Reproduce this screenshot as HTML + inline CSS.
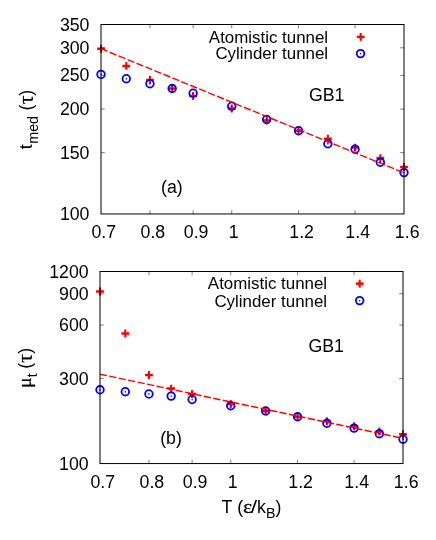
<!DOCTYPE html>
<html><head><meta charset="utf-8"><title>chart</title>
<style>html,body{margin:0;padding:0;background:#fff;overflow:hidden}svg{display:block;will-change:transform}text{font-family:"Liberation Sans",sans-serif;fill:#000}</style></head><body>
<svg width="436" height="540" viewBox="0 0 436 540" font-size="17">
<rect width="436" height="540" fill="#fff"/>
<path d="M97.10 48.70h7.8M122.39 65.90h7.8M146.04 79.90h7.8M168.26 88.60h7.8M189.21 96.10h7.8M227.83 108.50h7.8M262.76 120.60h7.8M294.66 130.80h7.8M323.99 138.80h7.8M351.16 147.60h7.8M376.44 158.10h7.8M400.10 167.00h7.8" stroke="#f00" stroke-width="2.5" fill="none"/><path d="M101.00 44.75v7.9M126.29 61.95v7.9M149.94 75.95v7.9M172.16 84.65v7.9M193.11 92.15v7.9M231.73 104.55v7.9M266.66 116.65v7.9M298.56 126.85v7.9M327.89 134.85v7.9M355.06 143.65v7.9M380.34 154.15v7.9M404.00 163.05v7.9" stroke="#f00" stroke-width="2.1" fill="none"/>
<circle cx="101.00" cy="74.40" r="3.8" fill="none" stroke="#00f" stroke-width="1.8"/><ellipse cx="101.00" cy="74.40" rx="0.65" ry="0.95" fill="#00f"/>
<circle cx="126.29" cy="78.70" r="3.8" fill="none" stroke="#00f" stroke-width="1.8"/><ellipse cx="126.29" cy="78.70" rx="0.65" ry="0.95" fill="#00f"/>
<circle cx="149.94" cy="83.70" r="3.8" fill="none" stroke="#00f" stroke-width="1.8"/><ellipse cx="149.94" cy="83.70" rx="0.65" ry="0.95" fill="#00f"/>
<circle cx="172.16" cy="88.55" r="3.8" fill="none" stroke="#00f" stroke-width="1.8"/><ellipse cx="172.16" cy="88.55" rx="0.65" ry="0.95" fill="#00f"/>
<circle cx="193.11" cy="93.25" r="3.8" fill="none" stroke="#00f" stroke-width="1.8"/><ellipse cx="193.11" cy="93.25" rx="0.65" ry="0.95" fill="#00f"/>
<circle cx="231.73" cy="106.20" r="3.8" fill="none" stroke="#00f" stroke-width="1.8"/><ellipse cx="231.73" cy="106.20" rx="0.65" ry="0.95" fill="#00f"/>
<circle cx="266.66" cy="119.45" r="3.8" fill="none" stroke="#00f" stroke-width="1.8"/><ellipse cx="266.66" cy="119.45" rx="0.65" ry="0.95" fill="#00f"/>
<circle cx="298.56" cy="130.75" r="3.8" fill="none" stroke="#00f" stroke-width="1.8"/><ellipse cx="298.56" cy="130.75" rx="0.65" ry="0.95" fill="#00f"/>
<circle cx="327.89" cy="143.80" r="3.8" fill="none" stroke="#00f" stroke-width="1.8"/><ellipse cx="327.89" cy="143.80" rx="0.65" ry="0.95" fill="#00f"/>
<circle cx="355.06" cy="149.30" r="3.8" fill="none" stroke="#00f" stroke-width="1.8"/><ellipse cx="355.06" cy="149.30" rx="0.65" ry="0.95" fill="#00f"/>
<circle cx="380.34" cy="162.30" r="3.8" fill="none" stroke="#00f" stroke-width="1.8"/><ellipse cx="380.34" cy="162.30" rx="0.65" ry="0.95" fill="#00f"/>
<circle cx="404.00" cy="172.60" r="3.8" fill="none" stroke="#00f" stroke-width="1.8"/><ellipse cx="404.00" cy="172.60" rx="0.65" ry="0.95" fill="#00f"/>
<path d="M101.0 48.7L404.0 172.8" stroke="#f00" stroke-width="1.4" stroke-dasharray="7.3 2.37" stroke-dashoffset="0.27" fill="none"/>
<path d="M149.94 213.95v-3.8M149.94 24.50v3.8M193.11 213.95v-3.8M193.11 24.50v3.8M231.73 213.95v-3.8M231.73 24.50v3.8M298.56 213.95v-3.8M298.56 24.50v3.8M355.06 213.95v-3.8M355.06 24.50v3.8M101.00 47.81h3.8M404.00 47.81h-3.8M101.00 75.38h3.8M404.00 75.38h-3.8M101.00 109.13h3.8M404.00 109.13h-3.8M101.00 152.63h3.8M404.00 152.63h-3.8" stroke="#000" stroke-width="0.5" fill="none"/>
<rect x="101.0" y="24.5" width="303.0" height="189.45" fill="none" stroke="#000" stroke-width="1"/>
<text transform="translate(89.5,30.5) scale(0.925,1)" text-anchor="end" font-size="19.2">350</text>
<text transform="translate(89.5,53.81) scale(0.925,1)" text-anchor="end" font-size="19.2">300</text>
<text transform="translate(89.5,81.38) scale(0.925,1)" text-anchor="end" font-size="19.2">250</text>
<text transform="translate(89.5,115.13) scale(0.925,1)" text-anchor="end" font-size="19.2">200</text>
<text transform="translate(89.5,158.63) scale(0.925,1)" text-anchor="end" font-size="19.2">150</text>
<text transform="translate(89.5,220.1) scale(0.925,1)" text-anchor="end" font-size="19.2">100</text>
<text transform="translate(103.8,238.3) scale(0.925,1)" text-anchor="middle" font-size="19.2">0.7</text>
<text transform="translate(152.9,238.3) scale(0.925,1)" text-anchor="middle" font-size="19.2">0.8</text>
<text transform="translate(196.1,238.3) scale(0.925,1)" text-anchor="middle" font-size="19.2">0.9</text>
<text transform="translate(233.7,238.3) scale(0.925,1)" text-anchor="middle" font-size="19.2">1</text>
<text transform="translate(301.6,238.3) scale(0.925,1)" text-anchor="middle" font-size="19.2">1.2</text>
<text transform="translate(357.7,238.3) scale(0.925,1)" text-anchor="middle" font-size="19.2">1.4</text>
<text transform="translate(407.2,238.3) scale(0.925,1)" text-anchor="middle" font-size="19.2">1.6</text>
<text x="328.1" y="42.5" text-anchor="end" font-size="16.9">Atomistic tunnel</text>
<text x="328.1" y="59.2" text-anchor="end" font-size="16.9">Cylinder tunnel</text>
<path d="M356.80 36.90h7.8" stroke="#f00" stroke-width="2.5" fill="none"/><path d="M360.70 32.95v7.9" stroke="#f00" stroke-width="2.1" fill="none"/>
<circle cx="360.5" cy="53.6" r="3.8" fill="none" stroke="#00f" stroke-width="1.8"/><ellipse cx="360.5" cy="53.6" rx="0.65" ry="0.95" fill="#00f"/>
<text transform="translate(308.9,100.5) scale(0.925,1)" text-anchor="start" font-size="19.2">GB1</text>
<text transform="translate(161.0,192.6) scale(0.925,1)" text-anchor="start" font-size="19.2">(a)</text>
<g transform="translate(32.3,149.2) rotate(-90)"><text transform="translate(0,0) scale(0.925,1)" font-size="19.2">t</text><text transform="translate(5.5,5.6) scale(0.925,1)" font-size="15.4">med</text><text transform="translate(38.75,0) scale(0.925,1)" font-size="19.2">(</text><text transform="translate(44.95,0.8) scale(1.065,1)" font-size="20.4" style="font-family:'Liberation Serif',serif" stroke="#000" stroke-width="0.25">τ</text><text transform="translate(53.5,0) scale(0.925,1)" font-size="19.2">)</text></g>
<path d="M96.10 291.50h7.8M121.39 333.50h7.8M145.04 374.95h7.8M167.26 388.60h7.8M188.21 394.00h7.8M226.83 404.00h7.8M261.76 411.00h7.8M293.66 416.80h7.8M322.99 421.30h7.8M350.16 426.20h7.8M375.44 431.50h7.8M399.10 434.20h7.8" stroke="#f00" stroke-width="2.5" fill="none"/><path d="M100.00 287.55v7.9M125.29 329.55v7.9M148.94 371.00v7.9M171.16 384.65v7.9M192.11 390.05v7.9M230.73 400.05v7.9M265.66 407.05v7.9M297.56 412.85v7.9M326.89 417.35v7.9M354.06 422.25v7.9M379.34 427.55v7.9M403.00 430.25v7.9" stroke="#f00" stroke-width="2.1" fill="none"/>
<circle cx="100.00" cy="389.80" r="3.8" fill="none" stroke="#00f" stroke-width="1.8"/><ellipse cx="100.00" cy="389.80" rx="0.65" ry="0.95" fill="#00f"/>
<circle cx="125.29" cy="391.70" r="3.8" fill="none" stroke="#00f" stroke-width="1.8"/><ellipse cx="125.29" cy="391.70" rx="0.65" ry="0.95" fill="#00f"/>
<circle cx="148.94" cy="394.00" r="3.8" fill="none" stroke="#00f" stroke-width="1.8"/><ellipse cx="148.94" cy="394.00" rx="0.65" ry="0.95" fill="#00f"/>
<circle cx="171.16" cy="396.10" r="3.8" fill="none" stroke="#00f" stroke-width="1.8"/><ellipse cx="171.16" cy="396.10" rx="0.65" ry="0.95" fill="#00f"/>
<circle cx="192.11" cy="399.50" r="3.8" fill="none" stroke="#00f" stroke-width="1.8"/><ellipse cx="192.11" cy="399.50" rx="0.65" ry="0.95" fill="#00f"/>
<circle cx="230.73" cy="405.70" r="3.8" fill="none" stroke="#00f" stroke-width="1.8"/><ellipse cx="230.73" cy="405.70" rx="0.65" ry="0.95" fill="#00f"/>
<circle cx="265.66" cy="411.00" r="3.8" fill="none" stroke="#00f" stroke-width="1.8"/><ellipse cx="265.66" cy="411.00" rx="0.65" ry="0.95" fill="#00f"/>
<circle cx="297.56" cy="416.80" r="3.8" fill="none" stroke="#00f" stroke-width="1.8"/><ellipse cx="297.56" cy="416.80" rx="0.65" ry="0.95" fill="#00f"/>
<circle cx="326.89" cy="423.30" r="3.8" fill="none" stroke="#00f" stroke-width="1.8"/><ellipse cx="326.89" cy="423.30" rx="0.65" ry="0.95" fill="#00f"/>
<circle cx="354.06" cy="428.10" r="3.8" fill="none" stroke="#00f" stroke-width="1.8"/><ellipse cx="354.06" cy="428.10" rx="0.65" ry="0.95" fill="#00f"/>
<circle cx="379.34" cy="433.70" r="3.8" fill="none" stroke="#00f" stroke-width="1.8"/><ellipse cx="379.34" cy="433.70" rx="0.65" ry="0.95" fill="#00f"/>
<circle cx="403.00" cy="439.20" r="3.8" fill="none" stroke="#00f" stroke-width="1.8"/><ellipse cx="403.00" cy="439.20" rx="0.65" ry="0.95" fill="#00f"/>
<path d="M100.0 374.2L403.0 438.4" stroke="#f00" stroke-width="1.4" stroke-dasharray="7.3 2.37" stroke-dashoffset="0.27" fill="none"/>
<path d="M148.94 463.55v-3.8M148.94 271.50v3.8M192.11 463.55v-3.8M192.11 271.50v3.8M230.73 463.55v-3.8M230.73 271.50v3.8M297.56 463.55v-3.8M297.56 271.50v3.8M354.06 463.55v-3.8M354.06 271.50v3.8M100.00 293.73h3.8M403.00 293.73h-3.8M100.00 325.07h3.8M403.00 325.07h-3.8M100.00 378.64h3.8M403.00 378.64h-3.8" stroke="#000" stroke-width="0.5" fill="none"/>
<rect x="100.0" y="271.5" width="303.0" height="192.05" fill="none" stroke="#000" stroke-width="1"/>
<text transform="translate(88.7,277.5) scale(0.925,1)" text-anchor="end" font-size="19.2">1200</text>
<text transform="translate(88.7,299.73) scale(0.925,1)" text-anchor="end" font-size="19.2">900</text>
<text transform="translate(88.7,331.07) scale(0.925,1)" text-anchor="end" font-size="19.2">600</text>
<text transform="translate(88.7,384.64) scale(0.925,1)" text-anchor="end" font-size="19.2">300</text>
<text transform="translate(88.7,469.6) scale(0.925,1)" text-anchor="end" font-size="19.2">100</text>
<text transform="translate(102.8,488.1) scale(0.925,1)" text-anchor="middle" font-size="19.2">0.7</text>
<text transform="translate(151.9,488.1) scale(0.925,1)" text-anchor="middle" font-size="19.2">0.8</text>
<text transform="translate(195.1,488.1) scale(0.925,1)" text-anchor="middle" font-size="19.2">0.9</text>
<text transform="translate(232.7,488.1) scale(0.925,1)" text-anchor="middle" font-size="19.2">1</text>
<text transform="translate(300.6,488.1) scale(0.925,1)" text-anchor="middle" font-size="19.2">1.2</text>
<text transform="translate(356.7,488.1) scale(0.925,1)" text-anchor="middle" font-size="19.2">1.4</text>
<text transform="translate(406.2,488.1) scale(0.925,1)" text-anchor="middle" font-size="19.2">1.6</text>
<text x="327.1" y="289.4" text-anchor="end" font-size="16.9">Atomistic tunnel</text>
<text x="327.1" y="306.5" text-anchor="end" font-size="16.9">Cylinder tunnel</text>
<path d="M355.80 283.65h7.8" stroke="#f00" stroke-width="2.5" fill="none"/><path d="M359.70 279.70v7.9" stroke="#f00" stroke-width="2.1" fill="none"/>
<circle cx="359.7" cy="300.6" r="3.8" fill="none" stroke="#00f" stroke-width="1.8"/><ellipse cx="359.7" cy="300.6" rx="0.65" ry="0.95" fill="#00f"/>
<text transform="translate(308.4,351.5) scale(0.925,1)" text-anchor="start" font-size="19.2">GB1</text>
<text transform="translate(160.2,443.8) scale(0.925,1)" text-anchor="start" font-size="19.2">(b)</text>
<g transform="translate(31.3,387.8) rotate(-90)"><text transform="translate(-0.2,0) scale(1.11,1)" font-size="17.8" style="font-family:'Liberation Serif',serif" stroke="#000" stroke-width="0.25">μ</text><text transform="translate(10.6,5.9) scale(0.925,1)" font-size="15.4">t</text><text transform="translate(19.0,0) scale(0.925,1)" font-size="19.2">(</text><text transform="translate(25.0,1.0) scale(1.065,1)" font-size="20.4" style="font-family:'Liberation Serif',serif" stroke="#000" stroke-width="0.25">τ</text><text transform="translate(34.0,0) scale(0.925,1)" font-size="19.2">)</text></g>
<text transform="translate(221.6,512.7) scale(0.925,1)" font-size="19.2">T</text><text transform="translate(237.3,512.7) scale(0.925,1)" font-size="19.2">(</text><text transform="translate(243.1,512.7) scale(1.14,1)" font-size="19.0" style="font-family:'Liberation Serif',serif" stroke="#000" stroke-width="0.25">ε</text><text transform="translate(250.7,512.7) scale(1.2,1)" font-size="19.2">/</text><text transform="translate(257.0,512.7) scale(0.925,1)" font-size="19.2">k</text><text transform="translate(265.9,517.9) scale(0.925,1)" font-size="15.4">B</text><text transform="translate(275.4,512.7) scale(0.925,1)" font-size="19.2">)</text>
</svg></body></html>
